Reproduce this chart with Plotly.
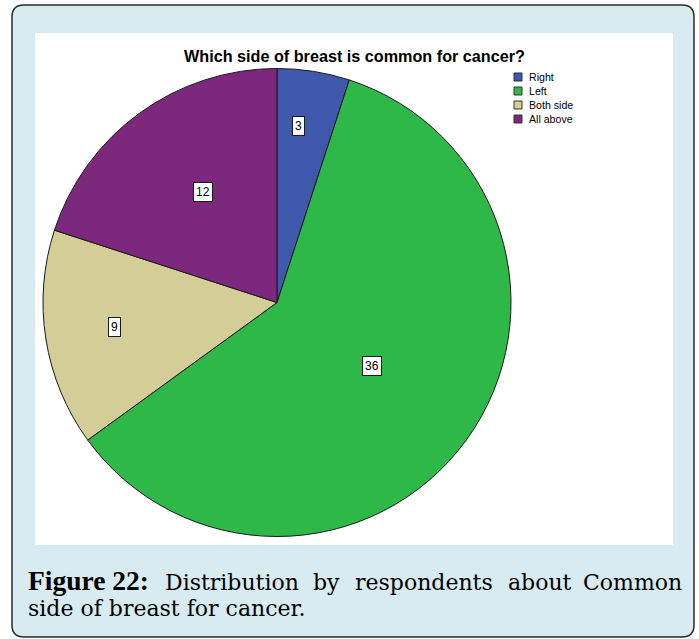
import math
import plotly.graph_objects as go

# ---- data ----
labels = ["Right", "Left", "Both side", "All above"]
values = [3, 36, 9, 12]
colors = ["#3E58AC", "#2EB848", "#D3CE97", "#7C287D"]
title_text = "Which side of breast is common for cancer?"
caption_bold = "Figure 22:"
caption_line1_words = ["Distribution", "by", "respondents", "about", "Common"]
caption_line2 = "side of breast for cancer."

# ---- layout helpers (pixels -> paper) ----
W, H = 699, 639
def px(x):
    return x / W
def py(y):
    return 1 - y / H

# pie geometry in pixels
cx, cy, R = 277, 302.5, 234
# label placement (style): fraction of slice angle and of radius
angle_frac = [0.38, 0.49, 0.51, 0.53]
radius_frac = [0.76, 0.49, 0.70, 0.57]

fig = go.Figure()
fig.add_trace(go.Pie(
    labels=labels, values=values, sort=False, direction="clockwise", rotation=0,
    marker=dict(colors=colors, line=dict(color="#1a1a1a", width=1)),
    textinfo="none", hoverinfo="label+value", showlegend=False,
    domain=dict(x=[px(cx - R), px(cx + R)], y=[py(cy + R), py(cy - R)]),
))

shapes = []
# outer rounded frame
x0, x1, y0, y1, r = 12, 694, 5, 637, 12
path = (f"M {px(x0+r)},{py(y0)} L {px(x1-r)},{py(y0)} "
        f"Q {px(x1)},{py(y0)} {px(x1)},{py(y0+r)} L {px(x1)},{py(y1-r)} "
        f"Q {px(x1)},{py(y1)} {px(x1-r)},{py(y1)} L {px(x0+r)},{py(y1)} "
        f"Q {px(x0)},{py(y1)} {px(x0)},{py(y1-r)} L {px(x0)},{py(y0+r)} "
        f"Q {px(x0)},{py(y0)} {px(x0+r)},{py(y0)} Z")
shapes.append(dict(type="path", path=path, xref="paper", yref="paper",
                   fillcolor="#D8EBF1", line=dict(color="#2b2b2b", width=1.5), layer="below"))
# inner white panel
shapes.append(dict(type="rect", xref="paper", yref="paper",
                   x0=px(35), x1=px(673), y0=py(545), y1=py(33),
                   fillcolor="white", line=dict(width=0), layer="below"))

sans = "Liberation Sans, Arial, sans-serif"
annotations = []
# title
annotations.append(dict(text=f"<b>{title_text}</b>", x=px(354), y=py(56), xref="paper", yref="paper",
                        xanchor="center", yanchor="middle", showarrow=False,
                        font=dict(family=sans, size=16.2, color="black")))

# slice value labels
total = sum(values)
cum = 0
for v, af, rf in zip(values, angle_frac, radius_frac):
    ang = (cum + af * v) / total * 2 * math.pi
    cum += v
    lx = cx + rf * R * math.sin(ang)
    ly = cy - rf * R * math.cos(ang)
    annotations.append(dict(text=str(v), x=px(lx), y=py(ly), xref="paper", yref="paper",
                            xanchor="center", yanchor="middle", showarrow=False,
                            bgcolor="white", bordercolor="#1a1a1a", borderwidth=1, borderpad=2,
                            font=dict(family=sans, size=12, color="black")))

# manual legend
leg_x, leg_y0, leg_dy, box = 514, 77, 14, 8
for i, (lab, col) in enumerate(zip(labels, colors)):
    yc = leg_y0 + i * leg_dy
    shapes.append(dict(type="rect", xref="paper", yref="paper",
                       x0=px(leg_x), x1=px(leg_x + box), y0=py(yc + box / 2), y1=py(yc - box / 2),
                       fillcolor=col, line=dict(color="#333333", width=1)))
    annotations.append(dict(text=lab, x=px(leg_x + box + 5), y=py(yc), xref="paper", yref="paper",
                            xanchor="left", yanchor="middle", showarrow=False,
                            font=dict(family=sans, size=10.6, color="black")))

# caption
reg_font = dict(family="DejaVu Serif, serif", size=22, color="black")
bold_font = dict(family="Liberation Serif, Times New Roman, serif", size=27.5, color="black")
base1, base2 = 590, 616
reg_c1 = base1 - (0.928 - 0.236) / 2 * 22
bold_c1 = base1 - (0.891 - 0.216) / 2 * 27.5
reg_c2 = base2 - (0.928 - 0.236) / 2 * 22
annotations.append(dict(text=f"<b>{caption_bold}</b>", x=px(27), y=py(bold_c1), xref="paper", yref="paper",
                        xanchor="left", yanchor="middle", showarrow=False, font=bold_font, borderpad=0))
word_starts = [164, 312, 354, 507]
for w, xs in zip(caption_line1_words[:-1], word_starts):
    annotations.append(dict(text=w, x=px(xs), y=py(reg_c1), xref="paper", yref="paper",
                            xanchor="left", yanchor="middle", showarrow=False, font=reg_font, borderpad=0))
annotations.append(dict(text=caption_line1_words[-1], x=px(683), y=py(reg_c1), xref="paper", yref="paper",
                        xanchor="right", yanchor="middle", showarrow=False, font=reg_font, borderpad=0))
annotations.append(dict(text=caption_line2, x=px(27), y=py(reg_c2), xref="paper", yref="paper",
                        xanchor="left", yanchor="middle", showarrow=False, font=reg_font, borderpad=0))

fig.update_layout(width=W, height=H, margin=dict(l=0, r=0, t=0, b=0),
                  paper_bgcolor="white", plot_bgcolor="white",
                  shapes=shapes, annotations=annotations, showlegend=False)
fig.write_html("out.html")
